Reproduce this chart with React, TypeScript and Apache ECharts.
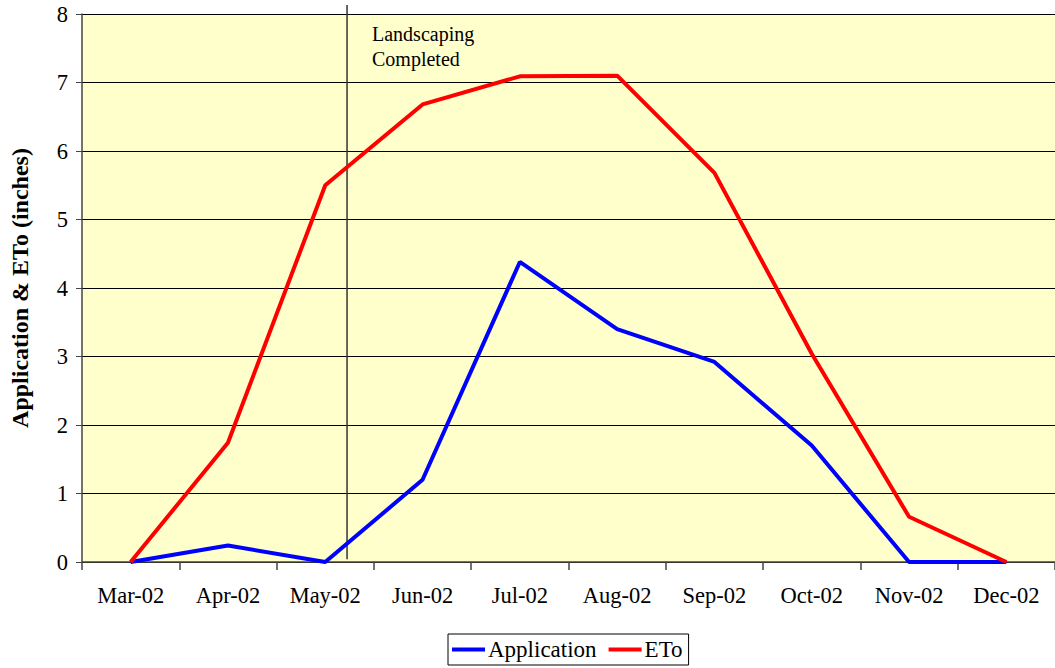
import React, { useEffect, useRef } from "react";
import * as echarts from "echarts";

const categories = ["Mar-02", "Apr-02", "May-02", "Jun-02", "Jul-02", "Aug-02", "Sep-02", "Oct-02", "Nov-02", "Dec-02"];
const application = [0, 0.24, 0.0, 1.2, 4.38, 3.4, 2.92, 1.7, 0, 0];
const eto = [0, 1.74, 5.5, 6.68, 7.09, 7.1, 5.68, 3.04, 0.66, 0];
const yTicks = [0, 1, 2, 3, 4, 5, 6, 7, 8];
const landscapingIndex = 2.224;
const landscapingLine = [[landscapingIndex, 8.13], [landscapingIndex, 0.04]];
const annotationText = "Landscaping\nCompleted";

const FONT = "Liberation Serif";

export default function App() {
  const ref = useRef<HTMLDivElement>(null);
  useEffect(() => {
    if (!ref.current) return;
    const chart = echarts.init(ref.current, undefined, { renderer: "svg" });
    chart.setOption({
      animation: false,
      backgroundColor: "#ffffff",
      textStyle: { fontFamily: FONT, color: "#000" },
      grid: { left: 80, right: -5, top: 14, bottom: 106, backgroundColor: "#FFFFCC", show: true, borderWidth: 0 },
      xAxis: [
        {
          type: "category",
          data: categories,
          boundaryGap: true,
          axisLine: { show: true, lineStyle: { color: "#444", width: 1.5 } },
          axisTick: { show: true, length: 8, lineStyle: { color: "#444", width: 1.5 } },
          axisLabel: { fontSize: 22.5, fontFamily: FONT, color: "#000", margin: 22 },
        },
        {
          type: "value",
          min: -0.5,
          max: 9.5,
          show: false,
        },
      ],
      yAxis: {
        type: "value",
        min: 0,
        max: yTicks[yTicks.length - 1],
        interval: 1,
        name: "Application & ETo (inches)",
        nameLocation: "middle",
        nameGap: 50,
        nameTextStyle: { fontSize: 24, fontWeight: "bold", fontFamily: FONT, color: "#000" },
        axisLine: { show: true, onZero: false, lineStyle: { color: "#444", width: 1.5 } },
        axisTick: { show: true, length: 6, lineStyle: { color: "#444" } },
        axisLabel: { fontSize: 22.5, fontFamily: FONT, color: "#000", margin: 14 },
        splitLine: { show: true, lineStyle: { color: "#000", width: 1 } },
      },
      legend: {
        bottom: 3,
        left: 448,
        data: ["Application", "ETo"],
        icon: "rect",
        itemWidth: 33,
        itemHeight: 4,
        itemGap: 12,
        borderColor: "#000",
        borderWidth: 1,
        borderRadius: 0,
        padding: [4, 6, 4, 4],
        textStyle: { fontSize: 23, fontFamily: FONT, color: "#000", padding: [0, 0, 0, -2] },
      },
      series: [
        {
          name: "Application",
          type: "line",
          data: application,
          symbol: "none",
          lineStyle: { color: "#0000FF", width: 4 },
          itemStyle: { color: "#0000FF" },
        },
        {
          name: "ETo",
          type: "line",
          data: eto,
          symbol: "none",
          lineStyle: { color: "#FF0000", width: 4 },
          itemStyle: { color: "#FF0000" },
        },
        {
          name: "marker",
          type: "line",
          xAxisIndex: 1,
          data: landscapingLine,
          symbol: "none",
          clip: false,
          silent: true,
          lineStyle: { color: "#333", width: 1.5 },
          z: 1,
        },
      ],
      graphic: [
        {
          type: "text",
          left: 372,
          top: 21,
          style: {
            text: annotationText,
            font: "20px " + FONT,
            fill: "#000",
            lineHeight: 25,
          },
        },
      ],
    });
    return () => chart.dispose();
  }, []);
  return <div ref={ref} style={{ width: 1055, height: 668, position: "absolute", left: 0, top: 0 }} />;
}
